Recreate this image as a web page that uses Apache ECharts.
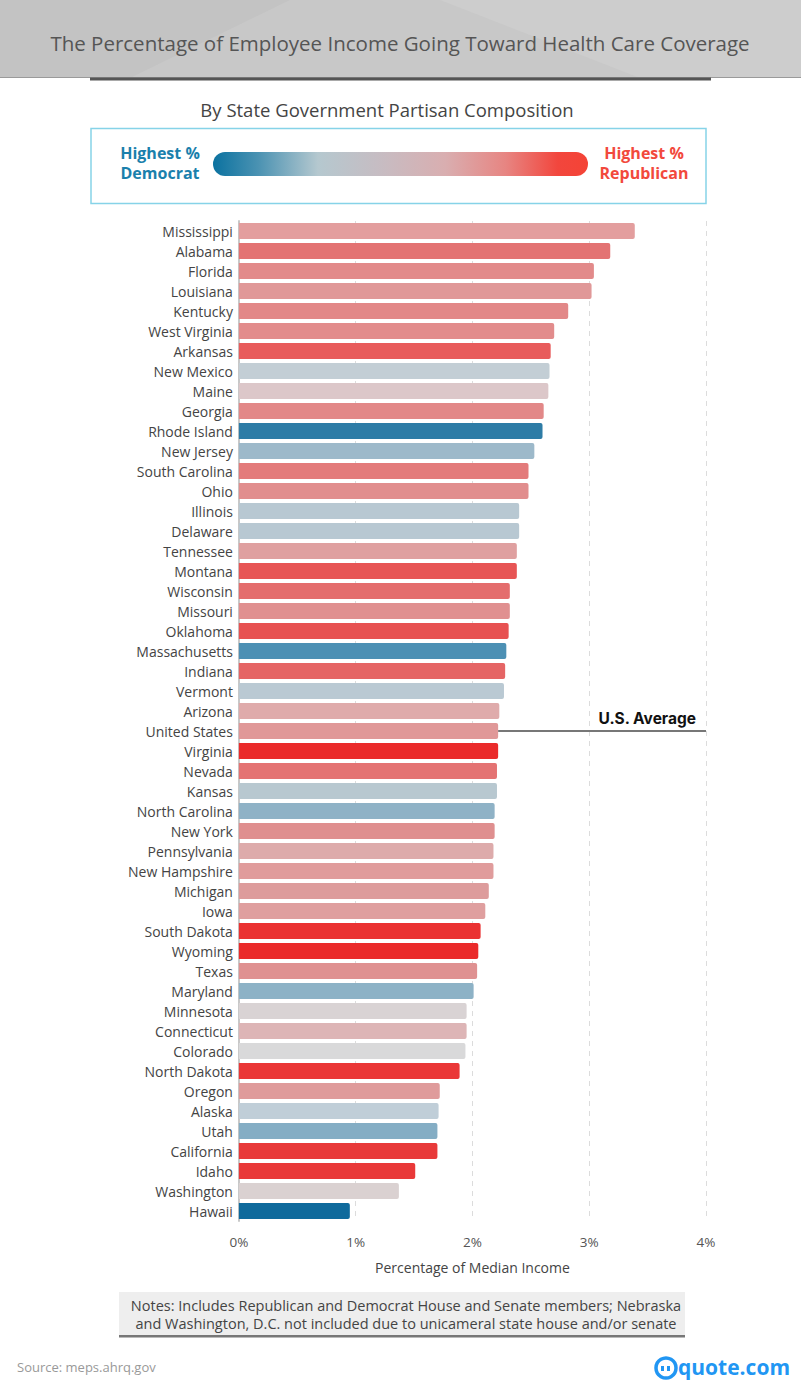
<!DOCTYPE html>
<html>
<head>
<meta charset="utf-8">
<script src="https://cdn.jsdelivr.net/npm/echarts@6/dist/echarts.min.js"></script>
<style>
html,body{margin:0;padding:0;background:#fff;}
#chart{width:801px;height:1395px;}
</style>
</head>
<body>
<div id="chart"></div>
<script>
const states = ['Mississippi','Alabama','Florida','Louisiana','Kentucky','West Virginia','Arkansas','New Mexico','Maine','Georgia','Rhode Island','New Jersey','South Carolina','Ohio','Illinois','Delaware','Tennessee','Montana','Wisconsin','Missouri','Oklahoma','Massachusetts','Indiana','Vermont','Arizona','United States','Virginia','Nevada','Kansas','North Carolina','New York','Pennsylvania','New Hampshire','Michigan','Iowa','South Dakota','Wyoming','Texas','Maryland','Minnesota','Connecticut','Colorado','North Dakota','Oregon','Alaska','Utah','California','Idaho','Washington','Hawaii'];
const values = [3.39,3.18,3.04,3.02,2.82,2.70,2.67,2.66,2.65,2.61,2.60,2.53,2.48,2.48,2.40,2.40,2.38,2.38,2.32,2.32,2.31,2.29,2.28,2.27,2.23,2.22,2.22,2.21,2.21,2.19,2.19,2.18,2.18,2.14,2.11,2.07,2.05,2.04,2.01,1.95,1.95,1.94,1.89,1.72,1.71,1.70,1.70,1.51,1.37,0.95];
const colors = ['#e39e9e','#e37373','#e28a8a','#e09898','#e28888','#e28c8c','#e85c5c','#c3ced5','#dcc7c9','#e28888','#2e7ca6','#9db9ca','#e37b7b','#e18e8e','#b8c8d2','#b8c8d2','#dfa0a0','#e75555','#e46d6d','#e09090','#e75252','#4d90b4','#e56565','#bac9d3','#dfabab','#e09898','#ea2b2b','#e47373','#b8c8d0','#8fb2c6','#df8f8f','#ddabab','#e09c9c','#dd9c9c','#df9f9f','#ea3232','#ea2b2b','#df9191','#8db2c6','#d9d3d4','#ddb5b6','#d9d9da','#ea3737','#df9b9b','#c0ced8','#84adc4','#e83a3a','#e93939','#dad1d1','#0f6a9c'];
const xTicks = [0,1,2,3,4];
const averageCategory = 'United States';

const FONT = '"Open Sans", "Noto Sans", sans-serif';
const chart = echarts.init(document.getElementById('chart'), null, {renderer:'svg', width:801, height:1395});
const usValue = values[states.indexOf(averageCategory)];

const option = {
  backgroundColor:'#ffffff',
  animation:false,
  textStyle:{fontFamily:FONT},
  grid:{left:238.9, right:95, top:221, bottom:174, containLabel:false},
  xAxis:{
    type:'value', min:xTicks[0], max:xTicks[xTicks.length-1], interval:1,
    axisLine:{show:false}, axisTick:{show:false},
    splitLine:{show:true, lineStyle:{color:'#dcdcdc', type:[5,5], width:1}},
    axisLabel:{formatter:'{value}%', color:'#555', fontSize:13.5, margin:14, fontFamily:FONT},
    name:'Percentage of Median Income', nameLocation:'middle', nameGap:39,
    nameTextStyle:{color:'#444', fontSize:14, fontFamily:FONT}
  },
  yAxis:{
    type:'category', data:states, inverse:true,
    axisLine:{show:true, lineStyle:{color:'#c8c8c8', width:2}},
    axisTick:{show:false},
    axisLabel:{color:'#444', fontSize:14, margin:6, fontFamily:FONT}
  },
  series:[{
    type:'bar',
    barWidth:16,
    data: values.map((v,i)=>({value:v, itemStyle:{color:colors[i]}})),
    itemStyle:{borderRadius:[0,2,2,0]},
    markLine:{
      silent:true, symbol:['none','none'],
      lineStyle:{color:'#777', width:2, type:'solid'},
      label:{show:true, position:'insideEndTop', formatter:'U.S. Average', color:'#111', fontWeight:'bold', fontSize:15.5, fontFamily:'Inter, "Noto Sans", sans-serif', distance:[10,5]},
      data:[[{coord:[usValue, averageCategory]},{coord:[xTicks[xTicks.length-1], averageCategory]}]]
    }
  }],
  graphic:[
    {type:'rect', shape:{x:0,y:0,width:801,height:78}, style:{fill:'#c8c8c8'}, z:-10},
    {type:'polygon', shape:{points:[[0,0],[290,0],[130,78],[0,78]]}, style:{fill:'#c3c3c3'}, z:-9},
    {type:'polygon', shape:{points:[[440,0],[801,0],[801,78],[640,78]]}, style:{fill:'#cdcdcd'}, z:-9},
    {type:'rect', shape:{x:0,y:77,width:801,height:1}, style:{fill:'#9a9a9a'}},
    {type:'rect', shape:{x:90,y:77.5,width:621,height:3}, style:{fill:'#555'}},
    {type:'text', x:400, y:43, style:{text:'The Percentage of Employee Income Going Toward Health Care Coverage', fill:'#555', font:'20.5px '+FONT, textAlign:'center', textVerticalAlign:'middle'}},
    {type:'text', x:387, y:109, style:{text:'By State Government Partisan Composition', fill:'#444', font:'18.5px '+FONT, textAlign:'center', textVerticalAlign:'middle'}},
    {type:'rect', shape:{x:91,y:128.5,width:615,height:75}, style:{fill:'none', stroke:'#86d3e8', lineWidth:1.5}},
    {type:'rect', shape:{x:213,y:152,width:375,height:24,r:12}, style:{fill:new echarts.graphic.LinearGradient(0,0,1,0,[
      {offset:0,color:'#0b72a0'},{offset:0.12,color:'#4a92b2'},{offset:0.28,color:'#b5c8cf'},{offset:0.45,color:'#c7bcc2'},{offset:0.62,color:'#d9aeb0'},{offset:0.78,color:'#e78582'},{offset:0.92,color:'#f2463d'},{offset:1,color:'#f44336'}])}},
    {type:'text', x:160, y:153, style:{text:'Highest %', fill:'#1a80ac', font:'bold 16px '+FONT, lineHeight:17, textAlign:'center', textVerticalAlign:'middle'}},
    {type:'text', x:160, y:173, style:{text:'Democrat', fill:'#1a80ac', font:'bold 16px '+FONT, lineHeight:17, textAlign:'center', textVerticalAlign:'middle'}},
    {type:'text', x:644, y:153, style:{text:'Highest %', fill:'#f2493c', font:'bold 16px '+FONT, lineHeight:17, textAlign:'center', textVerticalAlign:'middle'}},
    {type:'text', x:644, y:173, style:{text:'Republican', fill:'#f2493c', font:'bold 16px '+FONT, lineHeight:17, textAlign:'center', textVerticalAlign:'middle'}},
    {type:'rect', shape:{x:119,y:1292,width:566,height:43}, style:{fill:'#eeeeee'}},
    {type:'rect', shape:{x:119,y:1335,width:566,height:2.5}, style:{fill:'#777'}},
    {type:'text', x:406, y:1305, style:{text:'Notes: Includes Republican and Democrat House and Senate members; Nebraska', fill:'#444', font:'14.5px '+FONT, textAlign:'center', textVerticalAlign:'middle'}},
    {type:'text', x:406, y:1323, style:{text:'and Washington, D.C. not included due to unicameral state house and/or senate', fill:'#444', font:'14.5px '+FONT, textAlign:'center', textVerticalAlign:'middle'}},
    {type:'text', x:17, y:1367, style:{text:'Source: meps.ahrq.gov', fill:'#999', font:'13px '+FONT, textAlign:'left', textVerticalAlign:'middle'}},
    {type:'circle', shape:{cx:666, cy:1368, r:10}, style:{fill:'none', stroke:'#2196f3', lineWidth:3.5}},
    {type:'rect', shape:{x:661,y:1366,width:3,height:5}, style:{fill:'#2196f3'}},
    {type:'rect', shape:{x:667,y:1366,width:3,height:5}, style:{fill:'#2196f3'}},
    {type:'text', x:678, y:1367, style:{text:'quote.com', fill:'#2196f3', font:'bold 21px '+FONT, textAlign:'left', textVerticalAlign:'middle'}}
  ]
};
chart.setOption(option);
</script>
</body>
</html>
